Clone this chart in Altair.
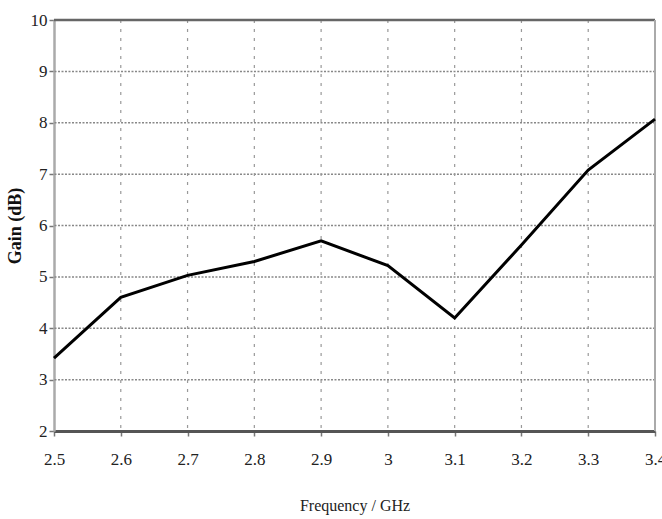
import altair as alt
import pandas as pd

freq = [2.5, 2.6, 2.7, 2.8, 2.9, 3.0, 3.1, 3.2, 3.3, 3.4]
gain = [3.42, 4.6, 5.03, 5.3, 5.7, 5.22, 4.2, 5.62, 7.08, 8.07]
x_ticks = [2.5, 2.6, 2.7, 2.8, 2.9, 3.0, 3.1, 3.2, 3.3, 3.4]
y_ticks = [2, 3, 4, 5, 6, 7, 8, 9, 10]

df = pd.DataFrame({"freq": freq, "gain": gain})
font = "Liberation Serif"

base = alt.Chart(df)

grid_y = alt.Chart(pd.DataFrame({"v": y_ticks[1:-1]})).mark_rule(
    color="#888888", strokeDash=[2, 1.5], strokeWidth=1.5
).encode(y=alt.Y("v:Q", scale=alt.Scale(domain=[2, 10])))

grid_x = alt.Chart(pd.DataFrame({"v": x_ticks[1:-1]})).mark_rule(
    color="#999999", strokeDash=[3, 6], strokeWidth=1.2
).encode(x=alt.X("v:Q", scale=alt.Scale(domain=[2.5, 3.4])))

top_border = alt.Chart(pd.DataFrame({"v": [10]})).mark_rule(
    color="#666666", strokeWidth=2.5
).encode(y=alt.Y("v:Q", scale=alt.Scale(domain=[2, 10])))
right_border = alt.Chart(pd.DataFrame({"v": [3.4]})).mark_rule(
    color="#aaaaaa", strokeWidth=2
).encode(x=alt.X("v:Q", scale=alt.Scale(domain=[2.5, 3.4])))

line = base.mark_line(color="black", strokeWidth=3).encode(
    x=alt.X(
        "freq:Q",
        scale=alt.Scale(domain=[2.5, 3.4], nice=False, zero=False),
        axis=alt.Axis(
            values=x_ticks,
            format="~g",
            title="Frequency / GHz",
            grid=False,
            domainColor="#555555",
            domainWidth=3,
            tickColor="#777777",
            tickSize=5,
            tickWidth=1.5,
            labelFlush=False,
            labelFont=font,
            labelFontSize=17,
            labelColor="#222222",
            labelPadding=15,
            titleFont=font,
            titleFontSize=16,
            titleFontWeight="normal",
            titleColor="#222222",
            titlePadding=30,
        ),
    ),
    y=alt.Y(
        "gain:Q",
        scale=alt.Scale(domain=[2, 10], nice=False, zero=False),
        axis=alt.Axis(
            values=y_ticks,
            title="Gain (dB)",
            grid=False,
            domainColor="#aaaaaa",
            domainWidth=2.5,
            tickColor="#777777",
            tickSize=5,
            tickWidth=1.5,
            labelFlush=False,
            labelFont=font,
            labelFontSize=17,
            labelColor="#222222",
            labelPadding=2,
            titleFont=font,
            titleFontSize=18,
            titleFontWeight="bold",
            titleColor="#111111",
            titlePadding=6,
        ),
    ),
)

chart = (
    alt.layer(grid_y, grid_x, top_border, right_border, line)
    .properties(
        width=601,
        height=411,
        autosize=alt.AutoSizeParams(type="none"),
        padding={"left": 54, "top": 20, "right": 7, "bottom": 88},
        background="white",
    )
    .configure_view(stroke=None)
)

chart.save("out.html", embed_options={"renderer": "svg", "actions": False})
